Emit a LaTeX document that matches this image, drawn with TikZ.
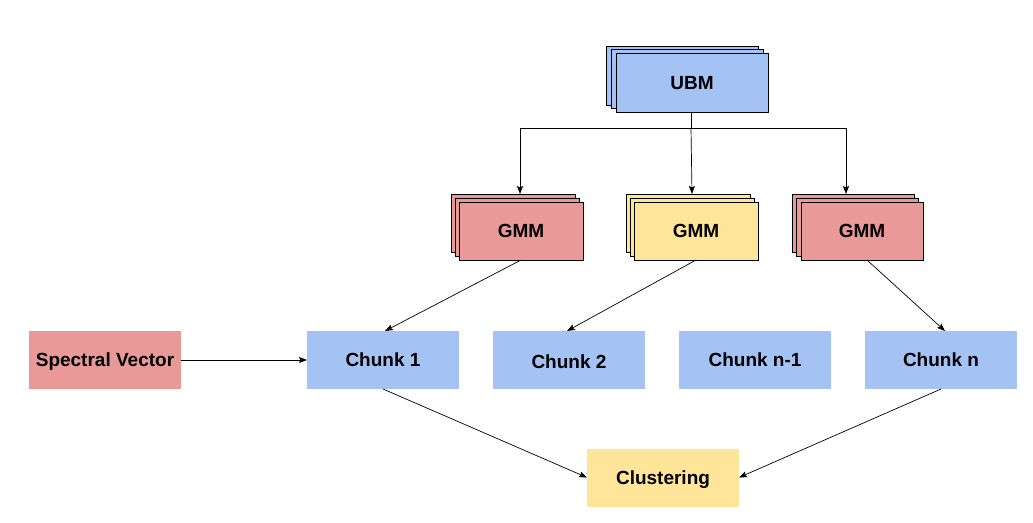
\documentclass[tikz,border=0pt]{standalone}
\usepackage{fontspec}
\setmainfont{Liberation Sans}
\usetikzlibrary{arrows.meta,calc}
\definecolor{cblue}{HTML}{A4C2F4}
\definecolor{cred}{HTML}{EA9999}
\definecolor{cyel}{HTML}{FFE599}
\tikzset{
  box/.style={minimum width=152pt, minimum height=58pt, inner sep=0pt, outer sep=0pt,
    text height=13.6pt, text depth=0pt,
    font=\fontsize{19}{22}\selectfont\bfseries},
  layer/.style={box, draw=black, line width=0.8pt},
  gmmbox/.style={layer, minimum width=124pt, minimum height=58pt},
  arr/.style={-{Stealth[length=8pt,width=6pt,inset=1.5pt]}, line width=0.7pt, black}
}
\begin{document}
\begin{tikzpicture}[x=1pt,y=-1pt]
\useasboundingbox[fill=white] (0,0) rectangle (1033,522);
% UBM stack
\node[layer, fill=cblue, minimum height=59pt] (ubmc) at (682,75.5) {};
\node[layer, fill=cblue, minimum height=59pt] (ubmb) at (687,79) {};
\node[layer, fill=cblue, minimum height=59pt] (ubm) at (692,82.5) {UBM};
% GMM stacks
\node[gmmbox, fill=cred] (g1c) at (513,223) {};
\node[gmmbox, fill=cred] (g1b) at (517,227) {};
\node[gmmbox, fill=cred] (g1) at (521,231) {GMM};
\node[gmmbox, fill=cyel] (g2c) at (688,223) {};
\node[gmmbox, fill=cyel] (g2b) at (692,227) {};
\node[gmmbox, fill=cyel] (g2) at (696,231) {GMM};
\node[gmmbox, fill=cred, minimum width=122pt] (g3c) at (853,223) {};
\node[gmmbox, fill=cred, minimum width=122pt] (g3b) at (857,227) {};
\node[gmmbox, fill=cred, minimum width=122pt] (g3) at (862,231) {GMM};
% Row of chunks
\node[box, fill=cred] (sv) at (105,360) {Spectral Vector};
\node[box, fill=cblue] (c1) at (383,360) {Chunk 1};
\node[box, fill=cblue, text height=17.6pt] (c2) at (569,360) {Chunk 2};
\node[box, fill=cblue] (cn1) at (755,359.5) {Chunk n-1};
\node[box, fill=cblue] (cn) at (941,360) {Chunk n};
\node[box, fill=cyel] (cl) at (663,477.5) {Clustering};
% connectors from UBM
\coordinate (hub) at ($(ubm.south)+(-1,16)$);
\draw[line width=0.7pt] ([xshift=-1pt]ubm.south) -- (hub);
\draw[arr] (hub) -| ([xshift=-1pt]g1.center |- g1c.north);
\draw[arr] (hub) -- (g2b.center |- g2c.north);
\draw[arr] (hub) -| ([xshift=-7pt]g3c.north);
% GMM to chunks
\draw[arr] (g1.south) -- ([xshift=2pt]c1.north);
\draw[arr] (g2.south) -- ([xshift=-2pt]c2.north);
\draw[arr] ([xshift=5pt]g3.south) -- ([xshift=4pt]cn.north);
% spectral vector
\draw[arr] (sv.east) -- (c1.west);
% to clustering
\draw[arr] (c1.south) -- (cl.west);
\draw[arr] (cn.south) -- (cl.east);
\end{tikzpicture}
\end{document}
